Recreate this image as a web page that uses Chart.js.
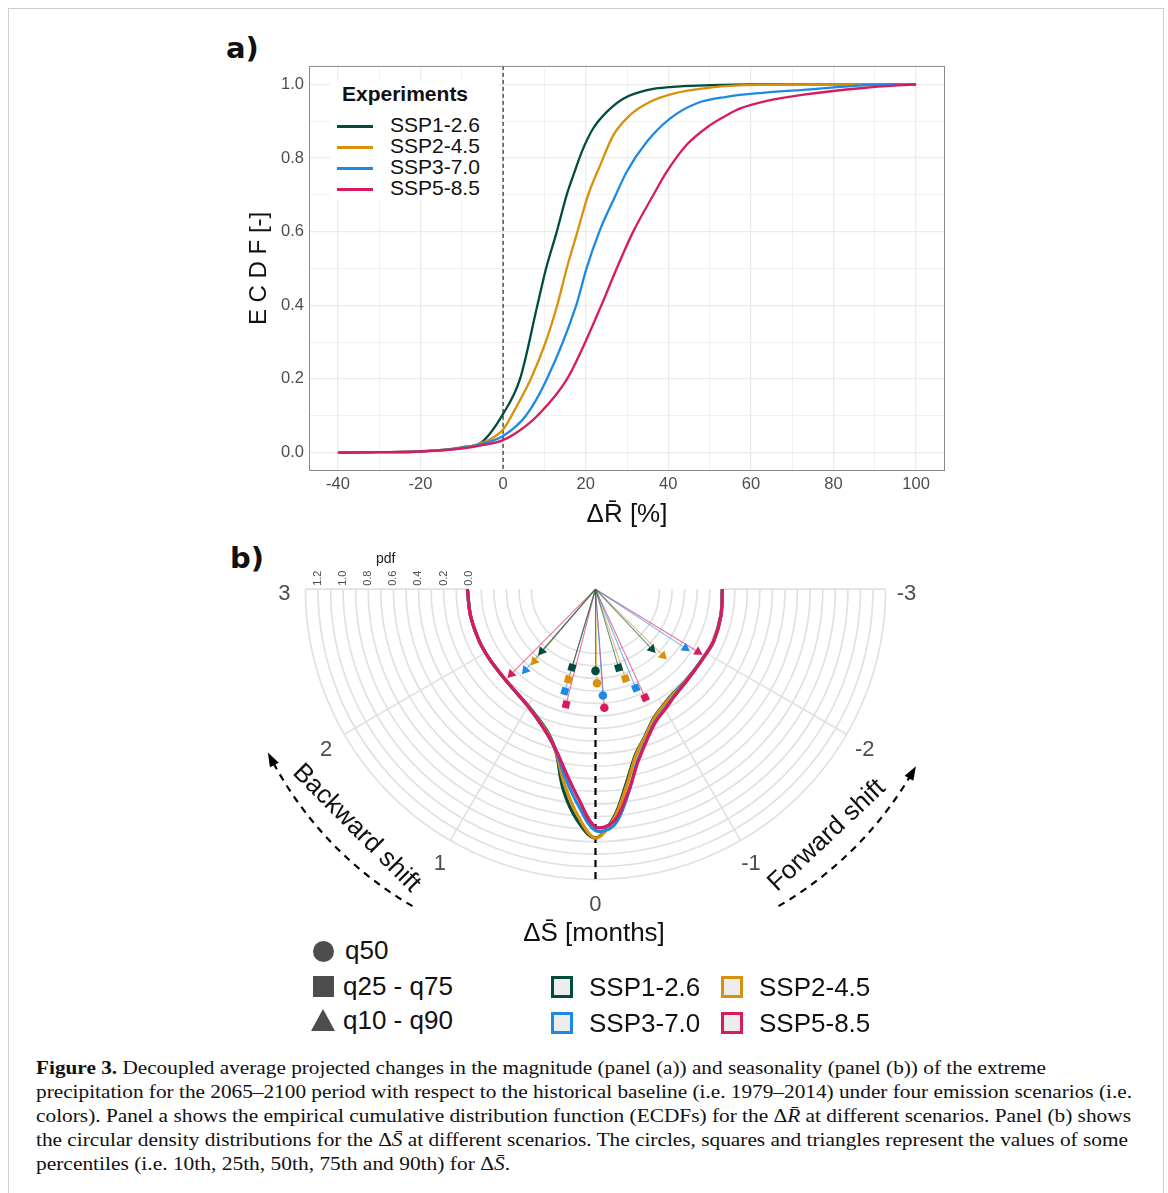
<!DOCTYPE html>
<html>
<head>
<meta charset="utf-8">
<script src="https://cdn.jsdelivr.net/npm/chart.js@4.4.1/dist/chart.umd.min.js"></script>
<style>
  body { margin: 0; width: 1168px; height: 1193px; position: relative; overflow: hidden; background: #fff;
         font-family: "Liberation Sans", Arial, sans-serif; color: #111; }
  .abs { position: absolute; white-space: nowrap; }
  .frame { position: absolute; left: 8px; top: 8px; width: 1154px; height: 1200px; border: 1px solid #cfcfcf; }
  .tag { font-family: "DejaVu Sans", sans-serif; font-weight: bold; font-size: 29px; }
  .legA { left: 330px; top: 80px; width: 168px; height: 120px; background: #fff; }
  .legA .ttl { position: absolute; left: 12px; top: 2px; font-weight: bold; font-size: 21px; }
  .legA .row { position: absolute; left: 7px; height: 21px; font-size: 21px; line-height: 21px; }
  .legA .key { display: inline-block; width: 36px; height: 3px; vertical-align: middle; margin-right: 17px; }
  .big { font-size: 26px; line-height: 30px; }
  .sym { position: absolute; background: #4d4d4d; }
  .box { position: absolute; width: 16px; height: 16px; background: #ededed; border: 3px solid; }
  .cap { position: absolute; left: 36px; font-family: "Liberation Serif", "Times New Roman", serif; font-size: 19px;
         line-height: 24px; white-space: nowrap; transform-origin: 0 50%; }
</style>
</head>
<body>
<div class="frame"></div>

<div class="abs tag" style="left:226px;top:31px;">a)</div>
<div class="abs" style="left:230px;top:51px;width:730px;height:485px;"><canvas id="ecdf"></canvas></div>
<div class="abs legA" id="legA"><div class="ttl">Experiments</div></div>

<div class="abs tag" style="left:230px;top:541px;">b)</div>
<div class="abs" style="left:230px;top:540px;width:730px;height:380px;"><canvas id="circ"></canvas></div>
<div class="abs big" style="left:494px;top:917px;width:200px;text-align:center;">&Delta;S&#772; [months]</div>

<div class="sym" style="left:313px;top:941px;width:21px;height:21px;border-radius:50%;"></div>
<div class="sym" style="left:313px;top:976px;width:21px;height:21px;"></div>
<div class="abs" style="left:311px;top:1009px;width:0;height:0;border-left:12px solid transparent;border-right:12px solid transparent;border-bottom:22px solid #4d4d4d;"></div>
<div class="abs big" style="left:345px;top:935px;">q50</div>
<div class="abs big" style="left:343px;top:971px;">q25 - q75</div>
<div class="abs big" style="left:343px;top:1005px;">q10 - q90</div>
<div id="legB"></div>

<div class="cap" id="c1" style="top:1056px;"><b>Figure 3.</b> Decoupled average projected changes in the magnitude (panel (a)) and seasonality (panel (b)) of the extreme</div>
<div class="cap" id="c2" style="top:1080px;">precipitation for the 2065&ndash;2100 period with respect to the historical baseline (i.e. 1979&ndash;2014) under four emission scenarios (i.e.</div>
<div class="cap" id="c3" style="top:1104px;">colors). Panel a shows the empirical cumulative distribution function (ECDFs) for the &Delta;<i>R&#772;</i> at different scenarios. Panel (b) shows</div>
<div class="cap" id="c4" style="top:1128px;">the circular density distributions for the &Delta;<i>S&#772;</i> at different scenarios. The circles, squares and triangles represent the values of some</div>
<div class="cap" id="c5" style="top:1152px;">percentiles (i.e. 10th, 25th, 50th, 75th and 90th) for &Delta;<i>S&#772;</i>.</div>

<script>
// ---- data -------------------------------------------------------------
const scenarios = ['SSP1-2.6', 'SSP2-4.5', 'SSP3-7.0', 'SSP5-8.5'];

// panel a: ECDF of the change in mean extreme precipitation [%]
const ecdfX126 = [-40, -30, -20, -10, -5, 0, 4.1, 8.3, 10.4, 13.0, 15.4, 17.0, 19.4, 21.8, 25.1, 29.1, 34.8, 41, 49, 60, 100];
const ecdfY126 = [0, 0.001, 0.003, 0.014, 0.03, 0.105, 0.2, 0.4, 0.5, 0.6, 0.7, 0.753, 0.826, 0.88, 0.925, 0.961, 0.984, 0.993, 0.997, 1.0, 1.0];
const ecdfX245 = [-40, -30, -20, -10, -5, 0, 3, 6.7, 10.3, 13.1, 15.4, 18.0, 20.6, 23.5, 26.7, 30.7, 35.5, 41.2, 49.3, 57, 73, 100];
const ecdfY245 = [0, 0.001, 0.004, 0.013, 0.027, 0.063, 0.12, 0.2, 0.3, 0.4, 0.5, 0.6, 0.7, 0.78, 0.862, 0.916, 0.952, 0.975, 0.99, 0.997, 1.0, 1.0];
const ecdfX370 = [-40, -30, -20, -10, -5, 0, 5.5, 10.6, 17.7, 20.2, 23.3, 27.3, 29.9, 34.8, 40.4, 46.8, 54.1, 62.8, 72.8, 81.7, 94, 100];
const ecdfY370 = [0, 0.001, 0.003, 0.012, 0.024, 0.045, 0.1, 0.2, 0.4, 0.5, 0.6, 0.7, 0.762, 0.844, 0.907, 0.948, 0.966, 0.977, 0.985, 0.993, 1.0, 1.0];
const ecdfX585 = [-40, -30, -20, -10, -5, 0, 4, 8.3, 15.5, 23.8, 27.5, 31.5, 36.4, 39.6, 44.4, 50.1, 54.1, 57.3, 63.9, 72.8, 87.2, 100];
const ecdfY585 = [0, 0.001, 0.003, 0.011, 0.02, 0.034, 0.06, 0.1, 0.2, 0.4, 0.5, 0.6, 0.7, 0.762, 0.835, 0.889, 0.916, 0.934, 0.955, 0.972, 0.99, 1.0];
const xTickValues = [-40, -30, -20, -10, 0, 10, 20, 30, 40, 50, 60, 70, 80, 90, 100];
const yTickValues = [0, 0.1, 0.2, 0.3, 0.4, 0.5, 0.6, 0.7, 0.8, 0.9, 1.0];

// panel b: circular density of the seasonality shift [months]
const densityMonths = [3, 2.6, 2.2, 1.9, 1.6, 1.4, 1.2, 1.0, 0.8, 0.6, 0.45, 0.3, 0.15, 0,
                       -0.15, -0.3, -0.45, -0.6, -0.8, -1.0, -1.2, -1.4, -1.6, -1.9, -2.2, -2.6, -3];
const pdf126 = [0.01, 0.008, 0.006, 0.006, 0.01, 0.02, 0.04, 0.07, 0.125, 0.21, 0.34, 0.63, 0.86, 1.0,
                0.84, 0.57, 0.36, 0.25, 0.13, 0.07, 0.035, 0.025, 0.015, 0.012, 0.02, 0.01, 0];
const pdf245 = [0.01, 0.008, 0.006, 0.006, 0.01, 0.02, 0.04, 0.072, 0.13, 0.215, 0.34, 0.58, 0.82, 1.0,
                0.85, 0.59, 0.37, 0.255, 0.135, 0.075, 0.04, 0.028, 0.016, 0.012, 0.02, 0.01, 0];
const pdf370 = [0.01, 0.008, 0.006, 0.005, 0.009, 0.02, 0.04, 0.074, 0.134, 0.225, 0.335, 0.53, 0.74, 0.94,
                0.9, 0.66, 0.42, 0.285, 0.16, 0.1, 0.055, 0.032, 0.018, 0.012, 0.02, 0.012, 0];
const pdf585 = [0.01, 0.008, 0.006, 0.005, 0.008, 0.02, 0.04, 0.075, 0.135, 0.225, 0.33, 0.49, 0.69, 0.91,
                0.87, 0.65, 0.43, 0.29, 0.165, 0.105, 0.06, 0.035, 0.02, 0.012, 0.02, 0.012, 0];
// percentiles q10, q25, q50, q75, q90
const quantLabels = ['q10', 'q25', 'q50', 'q75', 'q90'];
const q126 = [1.35, 0.55, 0.0, -0.54, -1.43];
const q245 = [1.33, 0.55, -0.03, -0.61, -1.5];
const q370 = [1.35, 0.55, -0.13, -0.73, -1.88];
const q585 = [1.48, 0.47, -0.14, -0.81, -1.94];
const monthTicks = [3, 2, 1, 0, -1, -2, -3];
const pdfTicks = [0, 0.2, 0.4, 0.6, 0.8, 1.0, 1.2];

// ---- styling ------------------------------------------------------------
const colors = ['#004d40', '#d9900a', '#1e88e5', '#d81b60'];
const markerRing = [-0.35, -0.25, -0.15, -0.05];   // radial slot of each scenario's markers
const HOLE = 1.01;                                  // empty centre, in pdf units
const PDF_MAX = 1.3;
const UNIT = 127.5;                                 // px per pdf unit
const CX = 365.5, CY = 45, BW = 730, BH = 380;

Chart.defaults.font.family = '"Liberation Sans", Arial, sans-serif';
Chart.defaults.color = '#4d4d4d';

// ---- panel a ------------------------------------------------------------
const ecdfSeries = [[ecdfX126, ecdfY126], [ecdfX245, ecdfY245], [ecdfX370, ecdfY370], [ecdfX585, ecdfY585]];

const panelFrame = {
  id: 'panelFrame',
  beforeDatasetsDraw(chart) {
    const { ctx, chartArea: a, scales: { x } } = chart;
    const x0 = x.getPixelForValue(0);
    ctx.save();
    ctx.strokeStyle = '#000'; ctx.lineWidth = 1; ctx.setLineDash([4, 3]);
    ctx.beginPath(); ctx.moveTo(x0, a.top); ctx.lineTo(x0, a.bottom); ctx.stroke();
    ctx.restore();
  },
  afterDraw(chart) {
    const { ctx, chartArea: a } = chart;
    ctx.save();
    ctx.strokeStyle = '#8a8a8a'; ctx.lineWidth = 1;
    ctx.strokeRect(a.left + 0.5, a.top + 0.5, a.right - a.left - 1, a.bottom - a.top - 1);
    ctx.restore();
  }
};

new Chart(document.getElementById('ecdf'), {
  type: 'line',
  data: {
    datasets: ecdfSeries.map(([xs, ys], i) => ({
      label: scenarios[i],
      data: xs.map((v, j) => ({ x: v, y: ys[j] })),
      borderColor: colors[i],
      borderWidth: 2.3,
      pointRadius: 0,
      cubicInterpolationMode: 'monotone',
      order: 4 - i
    }))
  },
  options: {
    responsive: true,
    maintainAspectRatio: false,
    animation: false,
    layout: { padding: { top: 5, right: 15, left: 0, bottom: 0 } },
    plugins: { legend: { display: false }, tooltip: { enabled: false } },
    scales: {
      x: {
        type: 'linear', min: -47, max: 107,
        afterBuildTicks: s => { s.ticks = xTickValues.map(v => ({ value: v })); },
        afterFit: s => { s.height = 65; },
        border: { display: false },
        grid: {
          drawTicks: false,
          color: '#ebebeb',
          lineWidth: c => (c.tick && c.tick.value % 20 === 0 ? 1.3 : 0.7)
        },
        ticks: { padding: 4, font: { size: 16.5 }, color: '#4d4d4d', maxRotation: 0,
                 callback: v => (v % 20 === 0 ? String(v) : '') },
        title: { display: true, text: '\u0394R\u0304 [%]', color: '#111', font: { size: 26 },
                 padding: { top: 0, bottom: 6 } }
      },
      y: {
        min: -0.05, max: 1.05,
        afterBuildTicks: s => { s.ticks = yTickValues.map(v => ({ value: v })); },
        afterFit: s => { s.width = 79; },
        border: { display: false },
        grid: {
          drawTicks: false,
          color: '#ebebeb',
          lineWidth: c => (c.tick && Math.round(c.tick.value * 10) % 2 === 0 ? 1.3 : 0.7)
        },
        ticks: { padding: 5, font: { size: 16.5 }, color: '#4d4d4d',
                 callback: v => (Math.round(v * 10) % 2 === 0 ? v.toFixed(1) : '') },
        title: { display: true, text: 'E C D F [-]', color: '#111', font: { size: 24 },
                 padding: { top: 15, bottom: 0 } }
      }
    }
  },
  plugins: [panelFrame]
});

const legA = document.getElementById('legA');
scenarios.forEach((s, i) => {
  const row = document.createElement('div');
  row.className = 'row';
  row.style.top = (34 + i * 21) + 'px';
  row.innerHTML = '<span class="key" style="background:' + colors[i] + '"></span>' + s;
  legA.appendChild(row);
});

// ---- panel b ------------------------------------------------------------
const toXY = (m, p) => {
  const a = m * Math.PI / 6, r = p + HOLE;
  return { x: -r * Math.sin(a), y: -r * Math.cos(a) };
};
const densities = [pdf126, pdf245, pdf370, pdf585];
const quantiles = [q126, q245, q370, q585];
const markerStyle = ['triangle', 'rect', 'circle', 'rect', 'triangle'];
const markerSize = [5.5, 5.2, 4.3, 5.2, 5.5];
const ringLevels = [];
for (let k = -5; k <= 13; k++) ringLevels.push(k / 10);

const polarGrid = {
  id: 'polarGrid',
  beforeDatasetsDraw(chart) {
    const { ctx, scales: { x, y } } = chart;
    const cx = x.getPixelForValue(0), cy = y.getPixelForValue(0);
    const unit = x.getPixelForValue(1) - cx;
    const rad = p => (p + HOLE) * unit;
    const dir = m => [-Math.sin(m * Math.PI / 6), Math.cos(m * Math.PI / 6)];
    ctx.save();
    ctx.strokeStyle = '#e1e1e1'; ctx.lineWidth = 1.7;
    ringLevels.forEach(p => { ctx.beginPath(); ctx.arc(cx, cy, rad(p), 0, Math.PI); ctx.stroke(); });
    [3, 2, 1, -1, -2, -3].forEach(m => {
      const [dx, dy] = dir(m);
      ctx.beginPath();
      ctx.moveTo(cx + dx * rad(0), cy + dy * rad(0));
      ctx.lineTo(cx + dx * rad(PDF_MAX), cy + dy * rad(PDF_MAX));
      ctx.stroke();
    });
    // zero-shift reference
    ctx.strokeStyle = '#000'; ctx.lineWidth = 2.2; ctx.setLineDash([7, 5]);
    ctx.beginPath(); ctx.moveTo(cx, cy + rad(0)); ctx.lineTo(cx, cy + rad(PDF_MAX)); ctx.stroke();
    ctx.setLineDash([]);

    // month labels
    ctx.fillStyle = '#4d4d4d'; ctx.font = '22px "Liberation Sans", Arial, sans-serif';
    ctx.textAlign = 'center'; ctx.textBaseline = 'middle';
    monthTicks.forEach(m => {
      const [dx, dy] = dir(m);
      const r = 311;
      ctx.fillText(String(m), cx + dx * r, cy + dy * r + 5);
    });
    // pdf labels
    ctx.font = '11px "Liberation Sans", Arial, sans-serif';
    pdfTicks.forEach(p => {
      ctx.save();
      ctx.translate(cx - rad(p), cy - 11);
      ctx.rotate(-Math.PI / 2);
      ctx.fillText(p.toFixed(1), 0, 0);
      ctx.restore();
    });
    ctx.fillStyle = '#222'; ctx.font = '14px "Liberation Sans", Arial, sans-serif';
    ctx.fillText('pdf', cx - rad(0.66), cy - 30);

    // shift annotations
    const arrow = (m1, m2, R) => {
      const f1 = Math.PI / 2 + m1 * Math.PI / 6, f2 = Math.PI / 2 + m2 * Math.PI / 6;
      const ccw = f2 < f1;
      ctx.strokeStyle = '#000'; ctx.lineWidth = 2.2; ctx.setLineDash([7, 6]);
      ctx.beginPath(); ctx.arc(cx, cy, R, f1, f2, ccw); ctx.stroke();
      ctx.setLineDash([]);
      const px = cx + R * Math.cos(f2), py = cy + R * Math.sin(f2);
      const s = ccw ? -1 : 1;
      const tx = -Math.sin(f2) * s, ty = Math.cos(f2) * s;
      ctx.fillStyle = '#000';
      ctx.beginPath();
      ctx.moveTo(px + tx * 7, py + ty * 7);
      ctx.lineTo(px - tx * 7 - ty * 5, py - ty * 7 + tx * 5);
      ctx.lineTo(px - tx * 7 + ty * 5, py - ty * 7 - tx * 5);
      ctx.closePath(); ctx.fill();
    };
    arrow(1.0, 2.08, 366);
    arrow(-1.0, -2.0, 366);
    ctx.fillStyle = '#111'; ctx.font = '26px "Liberation Sans", Arial, sans-serif';
    [[1.5, 'Backward shift'], [-1.44, 'Forward shift']].forEach(([m, t]) => {
      const [dx, dy] = dir(m);
      ctx.save();
      ctx.translate(cx + dx * 338, cy + dy * 338);
      ctx.rotate(m * Math.PI / 6);
      ctx.fillText(t, 0, 0);
      ctx.restore();
    });
    ctx.restore();
  }
};

const circDatasets = [];
densities.forEach((pdf, i) => {
  circDatasets.push({
    label: scenarios[i],
    data: densityMonths.map((m, j) => toXY(m, pdf[j])),
    showLine: true, borderColor: colors[i], borderWidth: 3.2, pointRadius: 0,
    tension: 0.35, clip: false, order: 4 - i
  });
});
quantiles.forEach((qs, i) => {
  const rays = [];
  qs.forEach(q => { rays.push({ x: 0, y: 0 }, toXY(q, markerRing[i]), { x: null, y: null }); });
  const c = colors[i];
  circDatasets.push({
    label: scenarios[i] + ' rays',
    data: rays, showLine: true, spanGaps: false, pointRadius: 0,
    borderColor: c + '99', borderWidth: 1.1, clip: false, order: 20
  });
  circDatasets.push({
    label: scenarios[i] + ' percentiles',
    data: qs.map(q => toXY(q, markerRing[i])),
    showLine: false, clip: false, order: 10,
    pointStyle: markerStyle, pointRadius: markerSize,
    pointRotation: qs.map((q, j) => (markerStyle[j] === 'triangle' ? 180 + q * 30 : q * 30)),
    backgroundColor: c, borderColor: c, borderWidth: 0
  });
});

new Chart(document.getElementById('circ'), {
  type: 'scatter',
  data: { datasets: circDatasets },
  options: {
    responsive: true, maintainAspectRatio: false, animation: false,
    layout: { padding: 0 },
    plugins: { legend: { display: false }, tooltip: { enabled: false } },
    scales: {
      x: { type: 'linear', display: false, min: -CX / UNIT, max: (BW - CX) / UNIT },
      y: { type: 'linear', display: false, min: -(BH - CY) / UNIT, max: CY / UNIT }
    }
  },
  plugins: [polarGrid]
});

// bottom scenario legend
const legB = document.getElementById('legB');
scenarios.forEach((s, i) => {
  const left = 551 + (i % 2) * 170, top = 976 + Math.floor(i / 2) * 36;
  legB.insertAdjacentHTML('beforeend',
    '<div class="box" style="left:' + left + 'px;top:' + top + 'px;border-color:' + colors[i] + '"></div>' +
    '<div class="abs big" style="left:' + (left + 38) + 'px;top:' + (top - 4) + 'px;">' + s + '</div>');
});

// fit caption lines to the original line lengths
const capRight = { c1: 1046, c2: 1132, c3: 1131, c4: 1128, c5: 510 };
Object.keys(capRight).forEach(id => {
  const el = document.getElementById(id);
  const w = el.getBoundingClientRect().width;
  el.style.transform = 'scaleX(' + ((capRight[id] - 36) / w).toFixed(4) + ')';
});
</script>
</body>
</html>
